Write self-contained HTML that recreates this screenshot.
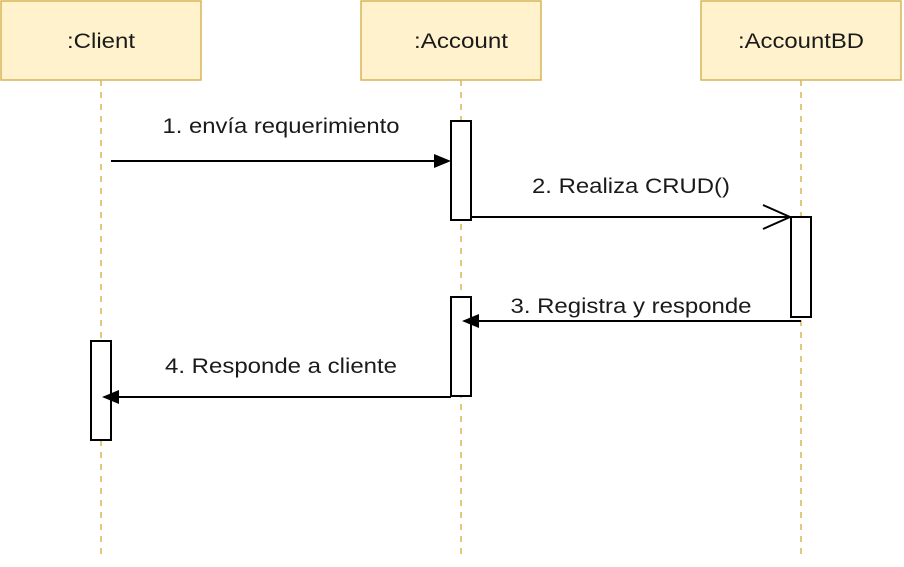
<!DOCTYPE html>
<html><head><meta charset="utf-8"><style>html,body{margin:0;padding:0;background:#fff}</style></head>
<body>
<svg width="904" height="562" viewBox="0 0 904 562" xmlns="http://www.w3.org/2000/svg" font-family="Liberation Sans, sans-serif" font-size="21">
<g stroke="#d6b656" stroke-width="1.5" fill="#fff2cc">
<rect x="1" y="1" width="200" height="79"/>
<rect x="361" y="1" width="180" height="79"/>
<rect x="701" y="1" width="200" height="79"/>
</g>
<g stroke="#d6b656" stroke-width="1.5" stroke-dasharray="6 6">
<line x1="101" y1="80" x2="101" y2="556"/>
<line x1="461" y1="80" x2="461" y2="556"/>
<line x1="801" y1="80" x2="801" y2="556"/>
</g>
<g fill="#1a1a1a" text-anchor="middle" lengthAdjust="spacingAndGlyphs">
<text x="101" y="48" textLength="68" lengthAdjust="spacingAndGlyphs">:Client</text>
<text x="461" y="48" textLength="94" lengthAdjust="spacingAndGlyphs">:Account</text>
<text x="801" y="48" textLength="126" lengthAdjust="spacingAndGlyphs">:AccountBD</text>
<text x="281" y="133" textLength="237" lengthAdjust="spacingAndGlyphs">1. envía requerimiento</text>
<text x="631" y="193" textLength="198" lengthAdjust="spacingAndGlyphs">2. Realiza CRUD()</text>
<text x="631" y="313" textLength="241" lengthAdjust="spacingAndGlyphs">3. Registra y responde</text>
<text x="281" y="373" textLength="232" lengthAdjust="spacingAndGlyphs">4. Responde a cliente</text>
</g>
<g stroke="#000" stroke-width="2" fill="#fff">
<rect x="451" y="121" width="20" height="99"/>
<rect x="791" y="217" width="20" height="100"/>
<rect x="451" y="297" width="20" height="99"/>
<rect x="91" y="341" width="20" height="99"/>
</g>
<g stroke="#000" stroke-width="2" fill="none">
<line x1="111" y1="161" x2="438" y2="161"/>
<line x1="471" y1="217" x2="790" y2="217"/>
<polyline points="763,205 790,217 763,229"/>
<line x1="801" y1="321" x2="474" y2="321"/>
<line x1="451" y1="397" x2="114" y2="397"/>
</g>
<g fill="#000">
<polygon points="451,161 434,154 434,168"/>
<polygon points="462,321 479,314 479,328"/>
<polygon points="102,397 119,390 119,404"/>
</g>
</svg>
</body></html>
